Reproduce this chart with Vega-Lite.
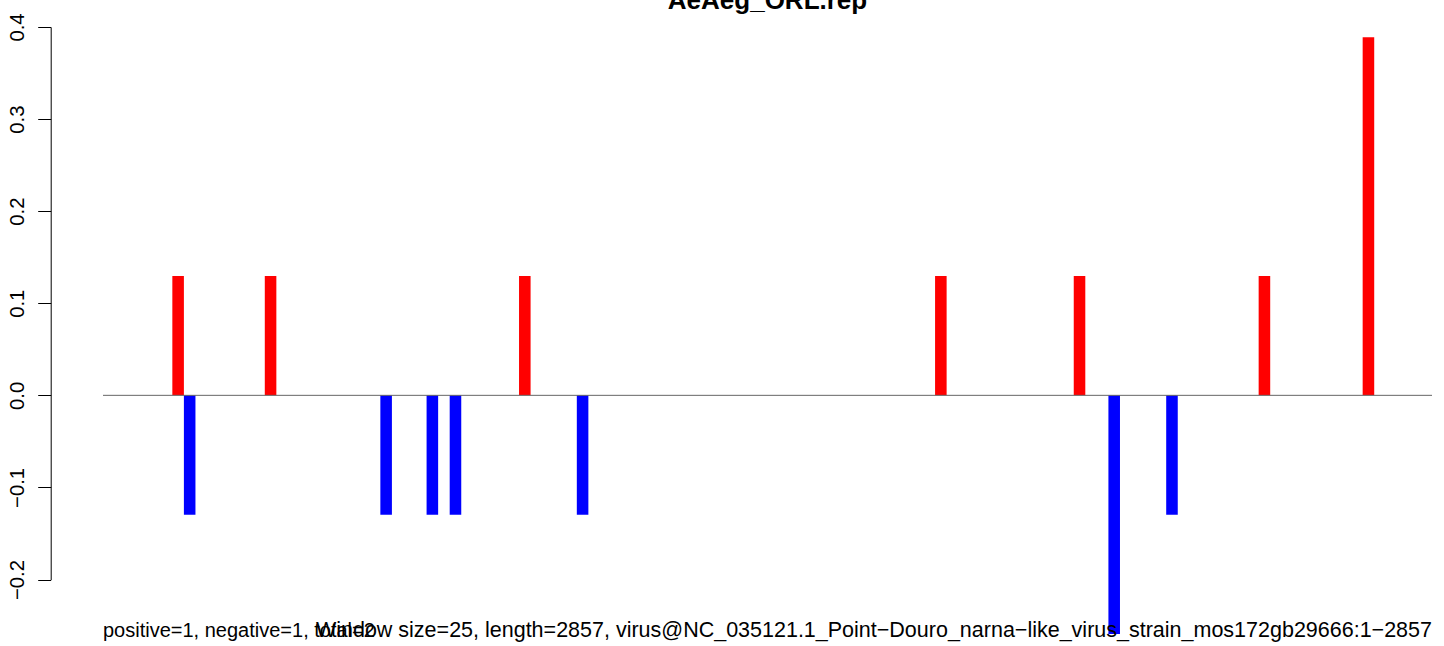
{
  "$schema": "https://vega.github.io/schema/vega-lite/v6.json",
  "autosize": "none",
  "width": 1329,
  "height": 552.5,
  "padding": {"left": 103, "top": 27, "right": 12, "bottom": 66.5},
  "background": "white",
  "config": {"view": {"stroke": null}, "font": "Liberation Sans"},
  "title": {
    "text": "AeAeg_ORL.rep",
    "font": "Liberation Sans",
    "fontSize": 26,
    "fontWeight": "bold",
    "color": "black",
    "anchor": "middle",
    "frame": "group",
    "baseline": "alphabetic",
    "offset": -22
  },
  "datasets": {
    "windows": [
      {"start": 150, "end": 175, "score": 0.1296, "strand": "positive"},
      {"start": 175, "end": 200, "score": -0.1296, "strand": "negative"},
      {"start": 350, "end": 375, "score": 0.1296, "strand": "positive"},
      {"start": 600, "end": 625, "score": -0.1296, "strand": "negative"},
      {"start": 700, "end": 725, "score": -0.1296, "strand": "negative"},
      {"start": 750, "end": 775, "score": -0.1296, "strand": "negative"},
      {"start": 900, "end": 925, "score": 0.1296, "strand": "positive"},
      {"start": 1025, "end": 1050, "score": -0.1296, "strand": "negative"},
      {"start": 1800, "end": 1825, "score": 0.1296, "strand": "positive"},
      {"start": 2100, "end": 2125, "score": 0.1296, "strand": "positive"},
      {"start": 2175, "end": 2200, "score": -0.2592, "strand": "negative"},
      {"start": 2300, "end": 2325, "score": -0.1296, "strand": "negative"},
      {"start": 2500, "end": 2525, "score": 0.1296, "strand": "positive"},
      {"start": 2725, "end": 2750, "score": 0.3888, "strand": "positive"}
    ],
    "notes": [
      {"label": "positive=1, negative=1, total=2"},
      {"label": "Window size=25, length=2857, virus@NC_035121.1_Point−Douro_narna−like_virus_strain_mos172gb29666:1−2857"}
    ]
  },
  "layer": [
    {
      "data": {"name": "windows"},
      "mark": {"type": "rect"},
      "encoding": {
        "x": {"field": "start", "type": "quantitative", "scale": {"domain": [0, 2875], "nice": false, "zero": false}, "axis": null},
        "x2": {"field": "end"},
        "y": {"field": "score", "type": "quantitative",
          "scale": {"domain": [-0.2, 0.4], "nice": false, "zero": false},
          "axis": {
            "values": [-0.2, -0.1, 0, 0.1, 0.2, 0.3, 0.4],
            "format": ".1f",
            "title": null,
            "grid": false,
            "offset": 52.3,
            "domainColor": "black",
            "domainWidth": 1,
            "tickColor": "black",
            "tickWidth": 1,
            "tickSize": 13,
            "labelAngle": 270,
            "labelAlign": "center",
            "labelBaseline": "alphabetic",
            "labelPadding": 14,
            "labelFont": "Liberation Sans",
            "labelFontSize": 20.3,
            "labelColor": "black",
            "labelFlush": false,
            "labelOverlap": false
          }
        },
        "y2": {"datum": 0},
        "color": {"field": "strand", "type": "nominal", "scale": {"domain": ["positive", "negative"], "range": ["#FF0000", "#0000FF"]}, "legend": null}
      }
    },
    {
      "data": {"values": [{}]},
      "mark": {"type": "rule", "color": "#666666", "strokeWidth": 1},
      "encoding": {"y": {"datum": 0}}
    },
    {
      "data": {"name": "notes"},
      "transform": [{"filter": "datum.label == 'positive=1, negative=1, total=2'"}],
      "mark": {"type": "text", "align": "left", "baseline": "alphabetic", "font": "Liberation Sans", "fontSize": 20, "color": "black"},
      "encoding": {"text": {"field": "label"}, "x": {"datum": 0}, "y": {"datum": -0.2624}}
    },
    {
      "data": {"name": "notes"},
      "transform": [{"filter": "datum.label != 'positive=1, negative=1, total=2'"}],
      "mark": {"type": "text", "align": "right", "baseline": "alphabetic", "font": "Liberation Sans", "fontSize": 21.5, "color": "black"},
      "encoding": {"text": {"field": "label"}, "x": {"datum": 2875}, "y": {"datum": -0.2624}}
    }
  ]
}
